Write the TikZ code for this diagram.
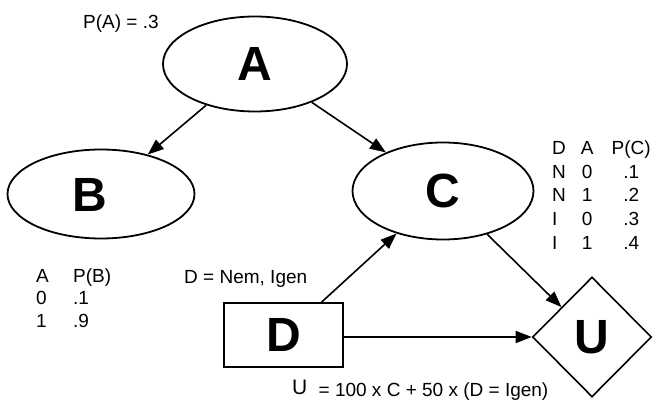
\documentclass[tikz,border=0pt]{standalone}
\usepackage{fontspec}
\setmainfont{Liberation Sans}
\usepackage{array}
\usetikzlibrary{shapes.geometric,arrows.meta}
\begin{document}
\begin{tikzpicture}[x=1pt,y=-1pt,
  big/.style={font=\fontsize{48}{48}\selectfont\bfseries, inner sep=0pt},
  ell/.style={ellipse, draw, line width=1.8pt, inner sep=0pt},
  small/.style={font=\fontsize{19}{23}\selectfont, inner sep=0pt},
  arr/.style={-{Triangle[length=16pt,width=12pt]}, line width=1.6pt}]
\useasboundingbox (0,0) rectangle (655,406);
% nodes
\node[ell, big, minimum width=184pt, minimum height=95pt] (A) at (255,64) {A};
\node[ell, minimum width=187pt, minimum height=89pt] (B) at (101,194) {};
\node[big] (Bl) at (90,195) {B};
\node[ell, big, minimum width=181pt, minimum height=97pt] (C) at (443,191) {C};
\node[draw, line width=1.6pt, minimum width=119pt, minimum height=64pt, inner sep=0pt, big] (D) at (283.5,335) {D};
\node[diamond, draw, line width=1.6pt, minimum width=119pt, minimum height=120pt, inner sep=0pt, big] (U) at (592,337) {U};
% texts
\node[small, anchor=base west] (pa) at (83,29) {P(A) = .3};
\node[small, anchor=base west] (tB) at (36,282) {\fontsize{19}{22.5}\selectfont\begin{tabular}[t]{@{}p{37pt}@{}l@{}}
A & P(B)\\
0 & .1\\
1 & .9
\end{tabular}};
\node[small, anchor=base west] (tC) at (552,155) {\fontsize{19}{23.5}\selectfont\begin{tabular}[t]{@{}p{22pt}@{}>{\centering\arraybackslash}p{26pt}@{}>{\centering\arraybackslash}p{62pt}@{}}
D & A & P(C)\\
N & 0 & .1\\
N & 1 & .2\\
I & 0 & .3\\
I & 1 & .4
\end{tabular}};
\node[small, anchor=base west] (dd) at (184,283) {D = Nem, Igen};
\node[small, anchor=base west] (uu) at (292,396) {\raisebox{1.5pt}{\fontsize{21}{23}\selectfont U}\hspace{6pt} = 100 x C + 50 x (D = Igen)};
% arrows
\draw[arr] (A) -- (B);
\draw[arr] (A) -- (C);
\draw[arr] ([xshift=38pt]D.north) -- (C);
\draw[arr] (C) -- (U);
\draw[arr] (D.east |- U.west) -- (U.west);
\end{tikzpicture}
\end{document}
